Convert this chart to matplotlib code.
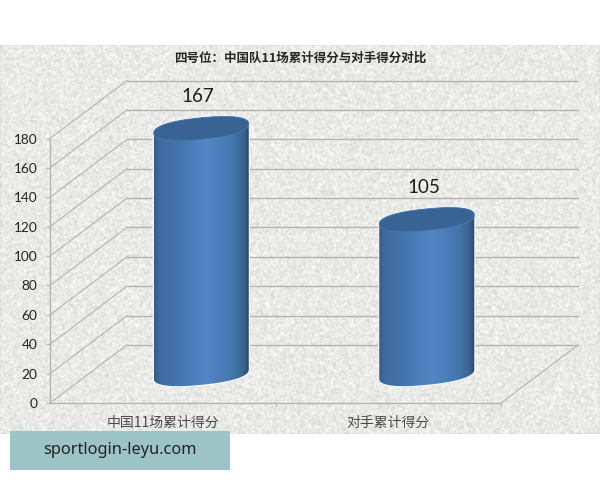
import numpy as np
import matplotlib
matplotlib.use("Agg")
import matplotlib.pyplot as plt
from matplotlib.patches import Polygon, Rectangle

plt.rcParams['font.family'] = ['Noto Sans CJK SC', 'DejaVu Sans']

categories = ['中国11场累计得分', '对手累计得分']
values = [167, 105]
yticks = [0, 20, 40, 60, 80, 100, 120, 140, 160, 180]
title = '四号位：中国队11场累计得分与对手得分对比'
watermark = 'sportlogin-leyu.com'

W, H = 600, 480
fig = plt.figure(figsize=(W / 100, H / 100), dpi=100, facecolor='white')

# paper-like backdrop: deterministic speckle, no data in it
yy, xx = np.mgrid[0:389, 0:600]
h = np.modf(np.sin(xx * 12.9898 + yy * 78.233) * 43758.5453)[0] % 1.0
k = np.array([1, 2, 1]) / 4
s = np.apply_along_axis(lambda r: np.convolve(r, k, 'same'), 1, h)
s = np.apply_along_axis(lambda r: np.convolve(r, k, 'same'), 0, s)
g = np.clip(234 + (s - 0.5) * 55, 205, 250) / 255
tex = np.dstack([g, g, g * 0.995])
fig.figimage(tex, xo=0, yo=46, zorder=-1)

# front plane of the chart, in pixels
L, R, B, T = 50, 501, 403, 138.5
ax = fig.add_axes([L / W, 1 - B / H, (R - L) / W, (B - T) / H])
ax.patch.set_alpha(0)
ax.set_xlim(-0.5, 1.5)
ax.set_ylim(0, 180)
ux = (R - L) / 2          # px per category
uy = (B - T) / 180        # px per value unit
DX, DY = 77 / ux, 58 / uy  # depth offset of the back wall

grid = '#b4b4b2'
for v in yticks:
    ax.plot([-0.5, -0.5 + DX], [v, v + DY], color=grid, lw=0.8, clip_on=False, zorder=1)
    ax.plot([-0.5 + DX, 1.5 + DX], [v + DY, v + DY], color=grid, lw=1.0, clip_on=False, zorder=1)
ax.plot([1.5, 1.5 + DX], [0, DY], color=grid, lw=0.8, clip_on=False, zorder=1)
ax.plot([0.5, 0.5], [0, -2], color=grid, lw=0.8, clip_on=False, zorder=1)
ax.plot([1.5, 1.5], [0, -2], color=grid, lw=0.8, clip_on=False, zorder=1)

cmap = matplotlib.colors.LinearSegmentedColormap.from_list('cyl', [
    (0.00, '#3a5a85'), (0.05, '#3f6a9e'), (0.30, '#4577b0'), (0.55, '#5386c6'),
    (0.82, '#4577ae'), (0.95, '#3a628f'), (1.00, '#2b4668')])
grad = np.linspace(0, 1, 200)[None, :]

a = 47.5 / ux
t = np.linspace(0, 2 * np.pi, 241)
shear, b = 4.6 / uy, 10.8 / uy


def rim(cx, cy, tt):
    c = np.sign(np.cos(tt)) * np.abs(np.cos(tt)) ** 0.85
    d = np.sign(np.sin(tt)) * np.abs(np.sin(tt)) ** 0.85
    return cx + a * c, cy + shear * c + b * d


for i, v in enumerate(values):
    cx = i + DX / 2
    base = DY / 2
    top = base + v
    x1, y1 = rim(cx, base, np.linspace(np.pi, 2 * np.pi, 80))
    x2, y2 = rim(cx, top, np.linspace(0, np.pi, 80))
    body = np.column_stack([np.r_[x1, x2], np.r_[y1, y2]])
    halo = Polygon(body, closed=True, fc='none', ec='#f4f8fb', lw=1.6, clip_on=False, zorder=2)
    ax.add_patch(halo)
    patch = Polygon(body, closed=True, fc='none', ec='none', clip_on=False,
                    transform=ax.transData)
    ax.add_patch(patch)
    im = ax.imshow(grad, cmap=cmap, extent=[cx - a, cx + a, base - 20, top + 20],
                   aspect='auto', zorder=3, interpolation='bilinear')
    im.set_clip_box(fig.bbox)
    im.set_clip_path(patch)
    xe, ye = rim(cx, top, t)
    ax.add_patch(Polygon(np.column_stack([xe, ye]), closed=True, fc='#3a6395',
                         ec='#4a79ad', lw=0.6, clip_on=False, zorder=4))
    ax.text(cx - 3 / ux, top + 32.5 / uy, str(v), ha='center', va='center',
            fontsize=13.5, family=['Lato', 'DejaVu Sans'], color='#1c1c1c', zorder=5)

ax.set_xlim(-0.5, 1.5)
ax.set_ylim(0, 180)

for name in ['top', 'right']:
    ax.spines[name].set_visible(False)
for name in ['left', 'bottom']:
    ax.spines[name].set_color(grid)
    ax.spines[name].set_linewidth(1.0)
ax.set_yticks(yticks)
ax.set_yticklabels([str(v) for v in yticks], fontsize=9.8, family=['Lato', 'DejaVu Sans'], color='#222222')
ax.tick_params(axis='y', length=3, width=0.8, color=grid, pad=6)
ax.set_xticks([0, 1])
ax.set_xticklabels(categories, fontsize=10, color='#4a4a4a')
ax.tick_params(axis='x', length=0, pad=9)

fig.text(300 / W, 1 - 58 / H, title, ha='center', va='center', fontsize=9,
         fontweight='bold', color='#262626')

fig.patches.append(Rectangle((10 / W, 1 - 470 / H), 220 / W, 39 / H, transform=fig.transFigure,
                             fc='#9cc3c5', ec='none', zorder=6))
fig.text(120 / W, 1 - 450.5 / H, watermark, ha='center', va='center', fontsize=11.8,
         family=['Noto Sans', 'DejaVu Sans'], color='#222222', zorder=7)

fig.savefig('out.png', dpi=100, facecolor='white')
